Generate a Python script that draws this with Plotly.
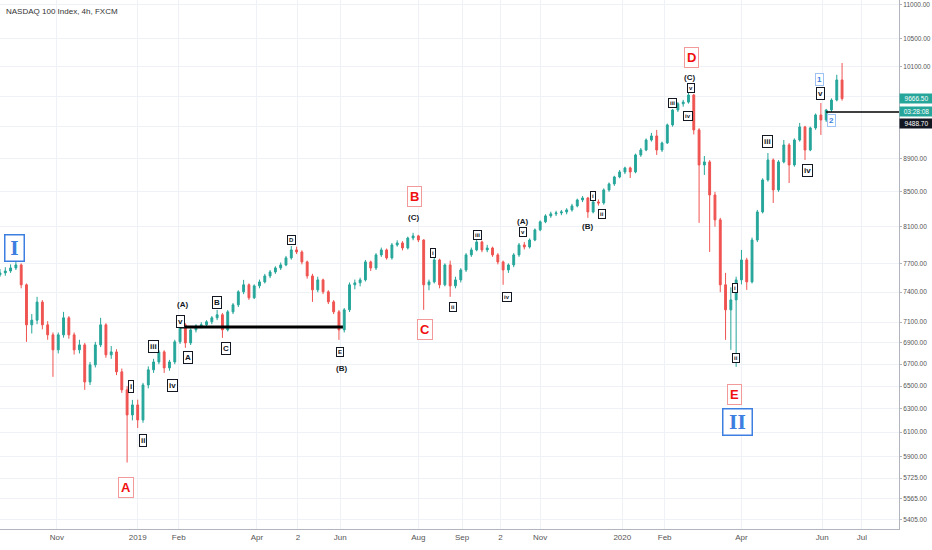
import numpy as np
import pandas as pd
import plotly.graph_objects as go

# 4-day candles (NASDAQ 100, FXCM)
opens = [
    7580, 7600, 7620, 7652, 7684, 7476, 7074, 7120, 7300, 7074,
    6977, 6834, 6977, 7143, 6977, 6834, 6881, 6538, 6694, 6881,
    7074, 6787, 6815, 6630, 6467, 6247, 6334, 6204, 6511, 6648,
    6721, 6815, 6666, 6721, 6910, 7074, 6900, 7025, 7064, 7074,
    7104, 7143, 7173, 7025, 7202, 7272, 7404, 7476, 7343, 7465,
    7506, 7568, 7610, 7652, 7684, 7759, 7845, 7823, 7716, 7568,
    7424, 7527, 7404, 7302, 7202, 7025, 7222, 7476, 7496, 7527,
    7716, 7652, 7791, 7845, 7759, 7899, 7921, 7866, 7975, 7998,
    7953, 7476, 7506, 7737, 7476, 7684, 7465, 7527, 7631, 7791,
    7845, 7932, 7845, 7866, 7791, 7716, 7631, 7684, 7791, 7899,
    7877, 7953, 8065, 8155, 8222, 8245, 8256, 8267, 8290, 8336,
    8405, 8428, 8267, 8382, 8370, 8522, 8593, 8676, 8736, 8785,
    8736, 8944, 9005, 9130, 9181, 9005, 9093, 9322, 9516, 9598,
    9620, 9715, 9258, 8821, 8858, 8463, 8177, 7476, 7222, 7322,
    7527, 7737, 7506, 7953, 8267, 8640, 8882, 8522, 8858, 9068,
    8821, 9130, 9296, 9005, 9283, 9451, 9386, 9516, 9648, 9919,
]
highs = [
    7640, 7660, 7690, 7720, 7700, 7490, 7180, 7353, 7320, 7110,
    7000, 7000, 7202, 7160, 7000, 6930, 6900, 6720, 6910, 7143,
    7090, 6870, 6840, 6660, 6500, 6378, 6380, 6530, 6680, 6750,
    6834, 6830, 6740, 6930, 7123, 7090, 7040, 7080, 7100, 7120,
    7160, 7222, 7190, 7220, 7290, 7420, 7527, 7490, 7480, 7530,
    7590, 7630, 7670, 7710, 7780, 7888, 7880, 7840, 7730, 7590,
    7560, 7540, 7420, 7320, 7220, 7240, 7500, 7530, 7550, 7737,
    7730, 7810, 7870, 7860, 7920, 7950, 7940, 7990, 8032, 8010,
    7960, 7530, 7791, 7750, 7700, 7730, 7560, 7650, 7810, 7870,
    7975, 7945, 7900, 7880, 7810, 7730, 7700, 7810, 7920, 7930,
    7970, 8080, 8170, 8240, 8270, 8280, 8290, 8310, 8360, 8420,
    8450, 8440, 8400, 8410, 8540, 8610, 8690, 8760, 8800, 8800,
    8960, 9030, 9150, 9220, 9258, 9110, 9340, 9530, 9620, 9650,
    9782, 9730, 9280, 8930, 8880, 8500, 8200, 7600, 7450, 7560,
    7845, 7760, 7980, 8290, 8660, 8968, 8900, 8880, 9130, 9090,
    9150, 9348, 9310, 9300, 9470, 9609, 9530, 9670, 9990, 10154,
]
lows = [
    7560, 7570, 7600, 7630, 7440, 6910, 6990, 7080, 7030, 6930,
    6584, 6800, 6950, 6940, 6790, 6800, 6467, 6510, 6670, 6860,
    6760, 6750, 6600, 6440, 5850, 6200, 6136, 6180, 6480, 6620,
    6700, 6620, 6640, 6700, 6890, 6853, 6880, 7000, 7040, 7050,
    7080, 7120, 6948, 7010, 7180, 7250, 7380, 7322, 7330, 7440,
    7490, 7545, 7590, 7630, 7670, 7740, 7800, 7690, 7540, 7302,
    7400, 7380, 7280, 7180, 6929, 7000, 7200, 7430, 7460, 7510,
    7620, 7630, 7770, 7740, 7740, 7880, 7840, 7850, 7950, 7930,
    7222, 7420, 7490, 7440, 7460, 7353, 7440, 7500, 7610, 7770,
    7830, 7820, 7820, 7770, 7690, 7476, 7600, 7660, 7770, 7850,
    7860, 7940, 8050, 8140, 8200, 8220, 8230, 8240, 8270, 8320,
    8380, 8200, 8250, 8340, 8350, 8500, 8570, 8660, 8710, 8664,
    8720, 8920, 8990, 9110, 8944, 8980, 9080, 9300, 9490, 9560,
    9600, 9200, 8143, 8700, 7823, 8100, 7400, 6929, 6834, 6675,
    7480, 7424, 7490, 7930, 8250, 8620, 8370, 8500, 8840, 8604,
    8800, 9110, 8882, 8990, 9260, 9194, 9360, 9490, 9630, 9640,
]
closes = [
    7600, 7620, 7652, 7684, 7476, 7074, 7120, 7300, 7074, 6977,
    6834, 6977, 7143, 6977, 6834, 6881, 6538, 6694, 6881, 7074,
    6787, 6815, 6630, 6467, 6247, 6334, 6204, 6511, 6648, 6721,
    6815, 6666, 6721, 6910, 7074, 6900, 7025, 7064, 7074, 7104,
    7143, 7173, 7025, 7202, 7272, 7404, 7476, 7343, 7465, 7506,
    7568, 7610, 7652, 7684, 7759, 7845, 7823, 7716, 7568, 7424,
    7527, 7404, 7302, 7202, 7025, 7222, 7476, 7496, 7527, 7716,
    7652, 7791, 7845, 7759, 7899, 7921, 7866, 7975, 7998, 7953,
    7476, 7506, 7737, 7476, 7684, 7465, 7527, 7631, 7791, 7845,
    7932, 7845, 7866, 7791, 7716, 7631, 7684, 7791, 7899, 7877,
    7953, 8065, 8155, 8222, 8245, 8256, 8267, 8290, 8336, 8405,
    8428, 8267, 8382, 8370, 8522, 8593, 8676, 8736, 8785, 8736,
    8944, 9005, 9130, 9181, 9005, 9093, 9322, 9516, 9598, 9620,
    9715, 9258, 8821, 8858, 8463, 8177, 7476, 7222, 7322, 7527,
    7737, 7506, 7953, 8267, 8640, 8882, 8522, 8858, 9068, 8821,
    9130, 9296, 9005, 9283, 9451, 9386, 9516, 9648, 9919, 9666.5,
]
bar_dates = pd.date_range("2018-09-19", periods=len(closes), freq="4D")

# elliott wave labels
label_text = ["I", "A", "i", "ii", "iii", "iv", "v", "(A)", "A", "B", "C", "D", "E", "(B)",
              "B", "(C)", "C", "i", "ii", "iii", "iv", "v", "(A)", "(B)", "i", "ii",
              "iii", "iv", "v", "(C)", "D", "i", "ii", "E", "II", "iii", "iv", "v", "1", "2"]
label_date = ["2018-09-30", "2018-12-23", "2018-12-27", "2019-01-05", "2019-01-13", "2019-01-27",
              "2019-02-02", "2019-02-04", "2019-02-08", "2019-03-02", "2019-03-09", "2019-04-27",
              "2019-06-03", "2019-06-04", "2019-07-29", "2019-07-28", "2019-08-06", "2019-08-12",
              "2019-08-27", "2019-09-15", "2019-10-07", "2019-10-19", "2019-10-19", "2019-12-07",
              "2019-12-11", "2019-12-18", "2020-02-09", "2020-02-21", "2020-02-23", "2020-02-22",
              "2020-02-23", "2020-03-27", "2020-03-28", "2020-03-27", "2020-03-29", "2020-04-21",
              "2020-05-21", "2020-05-31", "2020-05-30", "2020-06-08"]
label_price = [7866, 5648, 6493, 6027, 6862, 6502, 7104, 7272, 6758, 7292, 6843, 7953,
               6815, 6657, 8440, 8200, 7025, 7812, 7252, 8009, 7353, 8043, 8155, 8099,
               8451, 8245, 9609, 9438, 9806, 9946, 10224, 7445, 6758, 6422, 6187, 9105,
               8748, 9731, 9919, 9373]
label_kind = ["bb", "r", "m", "m", "m", "m", "m", "p", "m", "m", "m", "s", "s", "p",
              "r", "p", "r", "s", "s", "s", "s", "s", "p", "p", "s", "s",
              "s", "s", "s", "p", "r", "s", "s", "r", "bb", "m", "m", "m", "bs", "bs"]

# horizontal levels
level_a_dates = ["2019-02-02", "2019-06-05"]
level_a_price = 7053
level_b_dates = ["2020-06-04", "2020-07-29"]
level_b_price = 9488.7
last_price = 9666.5

y_ticks = [11000, 10500, 10100, 9700, 9300, 8900, 8500, 8100, 7700, 7400, 7100,
           6900, 6700, 6500, 6300, 6100, 5900, 5725, 5565, 5405]
y_ticktext = ["" if v in (9700, 9300) else f"{v:.2f}" for v in y_ticks]
x_ticks = ["2018-11-01", "2019-01-01", "2019-02-01", "2019-04-01", "2019-05-02", "2019-06-03",
           "2019-08-01", "2019-09-03", "2019-10-02", "2019-11-01", "2020-01-02", "2020-02-03",
           "2020-04-01", "2020-06-01", "2020-07-01"]
x_ticktext = ["Nov", "2019", "Feb", "Apr", "2", "Jun", "Aug", "Sep", "2", "Nov", "2020",
              "Feb", "Apr", "Jun", "Jul"]

UP = "#26a69a"
DOWN = "#ef5350"
BLUE = "#3d7fe0"

fig = go.Figure()
fig.add_trace(go.Candlestick(
    x=bar_dates, open=opens, high=highs, low=lows, close=closes,
    increasing=dict(line=dict(color=UP, width=1), fillcolor=UP),
    decreasing=dict(line=dict(color=DOWN, width=1), fillcolor=DOWN),
    whiskerwidth=0, showlegend=False, hoverinfo="skip",
))
fig.add_trace(go.Scatter(x=level_a_dates, y=[level_a_price] * 2, mode="lines",
                         line=dict(color="black", width=3), showlegend=False, hoverinfo="skip"))
fig.add_trace(go.Scatter(x=level_b_dates, y=[level_b_price] * 2, mode="lines",
                         line=dict(color="black", width=1.5), showlegend=False, hoverinfo="skip"))

styles = {
    "s": dict(font=dict(size=6, color="#131722", family="Liberation Sans"),
              bordercolor="#131722", borderwidth=1, borderpad=1, bgcolor="white"),
    "m": dict(font=dict(size=8, color="#131722", family="Liberation Sans"),
              bordercolor="#131722", borderwidth=1, borderpad=1, bgcolor="white"),
    "r": dict(font=dict(size=13, color="#f01010", family="Liberation Sans"),
              bordercolor="#f29a9a", borderwidth=1, borderpad=2, bgcolor="white"),
    "bb": dict(font=dict(size=18, color=BLUE, family="DejaVu Serif"),
               bordercolor=BLUE, borderwidth=1.5, borderpad=2, bgcolor="white"),
    "bs": dict(font=dict(size=8, color=BLUE, family="Liberation Sans"),
               bordercolor="#9fc2f5", borderwidth=1, borderpad=1, bgcolor="white"),
    "p": dict(font=dict(size=8, color="#131722", family="Liberation Sans")),
}
for txt, d, p, kind in zip(label_text, label_date, label_price, label_kind):
    st = dict(styles[kind])
    if kind == "bb":
        st["width"] = 14 if txt == "I" else 24
    fig.add_annotation(x=d, y=np.log10(p), xref="x", yref="y", text=f"<b>{txt}</b>",
                       showarrow=False, xanchor="center", yanchor="middle", **st)

# price tags on the right scale
tag_font = dict(size=6.5, color="white", family="Liberation Sans")
fig.add_annotation(x=1.0, xref="paper", y=np.log10(last_price), yref="y", text=f"{last_price:.2f}",
                   showarrow=False, xanchor="left", yanchor="middle", bgcolor=UP, width=31,
                   borderpad=1, font=tag_font)
fig.add_annotation(x=1.0, xref="paper", y=np.log10(last_price), yref="y", text="03:28:08",
                   showarrow=False, xanchor="left", yanchor="middle", bgcolor=UP, width=31,
                   borderpad=1, yshift=-13, font=tag_font)
fig.add_annotation(x=1.0, xref="paper", y=np.log10(level_b_price), yref="y", text=f"{level_b_price:.2f}",
                   showarrow=False, xanchor="left", yanchor="middle", bgcolor="#131722", width=31,
                   borderpad=1, yshift=-11, font=tag_font)

fig.add_annotation(x=0.004, y=0.979, xref="paper", yref="paper", text="NASDAQ 100 Index, 4h, FXCM",
                   showarrow=False, xanchor="left", yanchor="middle",
                   font=dict(size=8, color="#333333", family="Liberation Sans"))

fig.update_layout(
    width=932, height=550,
    margin=dict(l=0, r=33, t=0, b=21, autoexpand=False),
    paper_bgcolor="white", plot_bgcolor="white",
    boxgap=0.5,
    xaxis=dict(type="date", range=["2018-09-19", "2020-07-29"], tickvals=x_ticks, ticktext=x_ticktext,
               showgrid=True, gridcolor="#eef1f6", tickfont=dict(size=8, color="#555555", family="Liberation Sans"),
               showline=True, linecolor="#b2b5be", ticks="", rangeslider=dict(visible=False), zeroline=False),
    yaxis=dict(type="log", side="right", range=[np.log10(5337), np.log10(11076)],
               tickvals=y_ticks, ticktext=y_ticktext, showgrid=True, gridcolor="#eef1f6",
               tickfont=dict(size=6.5, color="#555555", family="Liberation Sans"),
               ticks="outside", ticklen=2, tickcolor="#b2b5be", showline=True, linecolor="#b2b5be",
               zeroline=False),
    hovermode=False,
)

fig.write_html("out.html", config={"displayModeBar": False},
               post_script="document.body.style.margin='0';")
